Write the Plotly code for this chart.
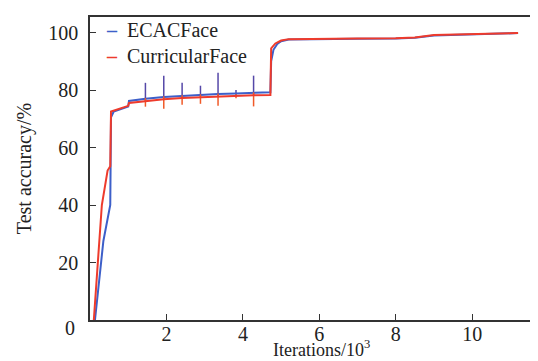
import plotly.graph_objects as go

# ---- data ----
ecac_x = [0.13, 0.22, 0.35, 0.53, 0.55, 0.62, 1.0, 1.02, 1.45, 1.93, 2.41, 2.89, 3.35, 3.82, 4.28,
          4.72, 4.74, 4.8, 4.9, 5.0, 5.2, 6.0, 7.0, 8.0, 8.5, 9.0, 10.0, 11.2]
ecac_y = [0, 11, 27.5, 40, 70.5, 72.5, 74.3, 76.2, 77.0, 77.6, 78.0, 78.3, 78.6, 78.8, 79.0,
          79.2, 90, 94, 96, 97, 97.6, 97.8, 97.8, 97.9, 98.2, 99.0, 99.4, 99.8]
ecac_err_up = [0, 0, 0, 0, 0, 0, 0, 0, 5.5, 7.4, 4.5, 3.2, 7.4, 1.2, 6.0,
               0, 0, 0, 0, 0, 0, 0, 0, 0, 0, 0, 0, 0]
ecac_err_dn = [0, 0, 0, 0, 0, 0, 0, 0, 1.0, 1.0, 1.0, 1.0, 1.0, 0.5, 1.0,
               0, 0, 0, 0, 0, 0, 0, 0, 0, 0, 0, 0, 0]

curr_x = [0.1, 0.2, 0.31, 0.46, 0.53, 0.55, 1.0, 1.02, 1.45, 1.93, 2.41, 2.89, 3.35, 3.82, 4.28,
          4.72, 4.74, 4.85, 5.0, 5.2, 6.0, 7.0, 8.0, 8.5, 9.0, 10.0, 11.2]
curr_y = [0, 20, 40, 52, 53.5, 72.5, 74.5, 75.5, 76.2, 76.8, 77.2, 77.5, 77.8, 78.0, 78.2,
          78.3, 94.5, 96.2, 97.2, 97.7, 97.9, 97.9, 98.0, 98.3, 99.1, 99.4, 99.8]
curr_err_up = [0, 0, 0, 0, 0, 0, 0, 0, 1.0, 1.0, 1.0, 1.0, 1.0, 0.5, 1.0,
               0, 0, 0, 0, 0, 0, 0, 0, 0, 0, 0, 0]
curr_err_dn = [0, 0, 0, 0, 0, 0, 0, 0, 2.0, 3.3, 2.3, 2.3, 3.3, 0.9, 3.9,
               0, 0, 0, 0, 0, 0, 0, 0, 0, 0, 0, 0]

series_names = ["ECACFace", "CurricularFace"]
x_tickvals = [0, 2, 4, 6, 8, 10]
x_ticktext = ["", "2", "4", "6", "8", "10"]
y_tickvals = [0, 20, 40, 60, 80, 100]
y_ticktext = ["", "20", "40", "60", "80", "100"]
x_title = "Iterations/10<sup>3</sup>"
y_title = "Test accuracy/%"

BLUE = "#3d5fc9"
RED = "#ee3b2c"
FONT = "Liberation Serif"

fig = go.Figure()
fig.add_trace(go.Scatter(
    x=ecac_x, y=ecac_y, mode="lines", name=series_names[0],
    line=dict(color=BLUE, width=2),
    error_y=dict(type="data", symmetric=False, array=ecac_err_up, arrayminus=ecac_err_dn,
                 width=0, thickness=1.5, color="#5548a8"),
))
fig.add_trace(go.Scatter(
    x=curr_x, y=curr_y, mode="lines", name=series_names[1],
    line=dict(color=RED, width=2),
    error_y=dict(type="data", symmetric=False, array=curr_err_up, arrayminus=curr_err_dn,
                 width=0, thickness=1.5, color="#f05a28"),
))

axis_common = dict(
    showline=True, linecolor="#333", linewidth=1.5, mirror=True,
    ticks="inside", ticklen=6, tickcolor="#333", tickwidth=1.2,
    showgrid=False, zeroline=False,
    tickfont=dict(family=FONT, size=20, color="#222"),
)

fig.update_layout(
    width=538, height=361,
    margin=dict(l=82, r=3, t=9, b=49),
    paper_bgcolor="white", plot_bgcolor="white",
    showlegend=False,
    xaxis=dict(range=[0, 11.8], tickvals=x_tickvals, ticktext=x_ticktext,
               ticklabelstandoff=-5, **axis_common),
    yaxis=dict(range=[0, 105.4], tickvals=y_tickvals, ticktext=y_ticktext,
               ticklabelstandoff=6,
               title=dict(text=y_title, font=dict(family=FONT, size=20, color="#222"),
                          standoff=11),
               **axis_common),
)

# x-axis title (placed as text so it sits where the reference has it)
fig.add_annotation(text=x_title, xref="paper", yref="paper", x=0.514, y=-0.054,
                   showarrow=False, xanchor="center", yanchor="top",
                   borderpad=0,
                   font=dict(family=FONT, size=18, color="#222"))

# shared origin label
fig.add_annotation(text="0", xref="paper", yref="paper", x=-0.045, y=-0.028,
                   showarrow=False, xanchor="center", yanchor="middle",
                   font=dict(family=FONT, size=20, color="#222"))

# legend drawn as text
legend_colors = [BLUE, RED]
legend_lines = [f"<span style='color:{c}'><b>–</b></span>  {n}" for n, c in zip(series_names, legend_colors)]
fig.add_annotation(text="<br>".join(legend_lines),
                   xref="paper", yref="paper", x=0.031, y=0.915,
                   showarrow=False, xanchor="left", yanchor="middle", align="left",
                   font=dict(family=FONT, size=20, color="#222"))

fig.write_html("out.html")
